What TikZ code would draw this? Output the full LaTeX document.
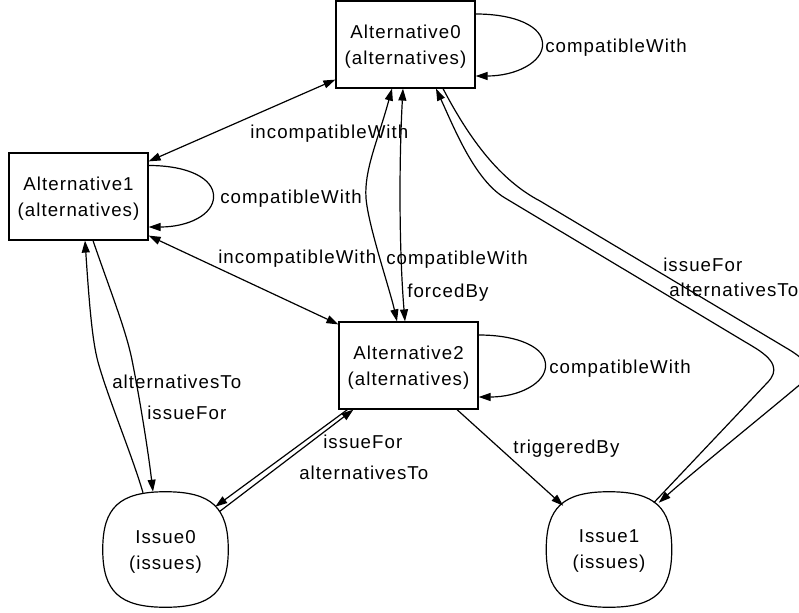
\documentclass[tikz,border=0pt]{standalone}
\usepackage{fontspec}
\setmainfont{Liberation Sans}[LetterSpace=5.7]
\usetikzlibrary{arrows.meta,calc}
\begin{document}
\begin{tikzpicture}[x=0.75pt,y=-0.75pt,
  >={Triangle[length=9pt,width=6pt]},
  every node/.style={font=\fontsize{14}{19.5}\selectfont},
  altbox/.style={draw, line width=0.9pt, minimum width=104.25pt, minimum height=65.25pt, inner sep=0pt, align=center, text depth=0pt},
  issuebox/.style={minimum width=93.75pt, minimum height=86.25pt, inner sep=0pt, align=center, text depth=0pt},
  issueline/.style={line width=0.9pt},
  lbl/.style={anchor=base west, inner sep=0pt},
  conn/.style={line width=0.9pt}]
\useasboundingbox (0,0) rectangle (799,613);
\clip (0,0) rectangle (799,613);

\node[altbox] (a0) at (405.5,44.5) {Alternative0\\(alternatives)};
\node[altbox] (a1) at (78.5,196.5) {Alternative1\\(alternatives)};
\node[altbox] (a2) at (408.5,365.5) {Alternative2\\(alternatives)};
\node[issuebox] (i0) at (165.5,549.5) {Issue0\\(issues)};
\node[issuebox] (i1) at (609,549.5) {Issue1\\(issues)};

% rounded outlines of the issue nodes
\draw[issueline] (i0.north) .. controls +(46,0) and +(0,-42) .. (i0.east) .. controls +(0,42) and +(46,0) .. (i0.south) .. controls +(-46,0) and +(0,42) .. (i0.west) .. controls +(0,-42) and +(-46,0) .. (i0.north) -- cycle;
\draw[issueline] (i1.north) .. controls +(46,0) and +(0,-42) .. (i1.east) .. controls +(0,42) and +(46,0) .. (i1.south) .. controls +(-46,0) and +(0,42) .. (i1.west) .. controls +(0,-42) and +(-46,0) .. (i1.north) -- cycle;

% Alt0 <-> Alt1, Alt1 <-> Alt2
\draw[conn,<->] ($(a0.south west)+(0,-9)$) -- ($(a1.north east)+(0,9)$);
\draw[conn,<->] ($(a1.south east)+(0,-5)$) -- ($(a2.north west)+(0,3)$);

% self loops
\draw[conn,->] ($(a0.east)+(0,-30.5)$) .. controls +(40,0) and +(0,-18) .. ($(a0.east)+(67,0)$) .. controls +(0,18) and +(40,0) .. ($(a0.east)+(0,31.5)$);
\draw[conn,->] ($(a1.east)+(0,-31)$) .. controls +(40,0) and +(0,-18) .. ($(a1.east)+(65,0)$) .. controls +(0,18) and +(40,0) .. ($(a1.east)+(0,30.5)$);
\draw[conn,->] ($(a2.east)+(0,-30.5)$) .. controls +(40,0) and +(0,-18) .. ($(a2.east)+(67,0)$) .. controls +(0,18) and +(40,0) .. ($(a2.east)+(0,31.5)$);

% Alt0 <-> Alt2
\draw[conn,<->] ($(a0.south)+(-13.5,0)$) .. controls (378,140) and (364,170) .. (366,198) .. controls (368,225) and (390,290) .. ($(a2.north)+(-11.5,0)$);
\draw[conn,<->] ($(a0.south)+(-2.5,0)$) .. controls (399,160) and (399,250) .. ($(a2.north)+(-3.5,0)$);

% Alt0 <-> Issue1
\draw[conn,<-] ($(a0.south)+(30.5,0)$) .. controls (455,130) and (475,180) .. (505,198) -- (752,346) .. controls (776,360) and (779,371) .. (767,383) -- ($(i1.north east)+(-18,11)$);
\draw[conn,->] ($(a0.south)+(37.5,0)$) .. controls (470,140) and (500,180) .. (540,201) -- (788,349) .. controls (815,365) and (812,375) .. (797,387) .. controls (760,418) and (692,473) .. ($(i1.north east)+(-13,11)$);

% Alt1 <-> Issue0
\draw[conn,<-] ($(a1.south)+(6.5,0)$) .. controls (89,300) and (92,340) .. (98,362) .. controls (108,398) and (132,455) .. ($(i0.north)+(-22.5,1)$);
\draw[conn,->] ($(a1.south)+(14.5,0)$) .. controls (110,290) and (126,330) .. (132,360) .. controls (140,400) and (148,450) .. ($(i0.north)+(-12.5,0)$);

% Alt2 <-> Issue0
\draw[conn,->] ($(a2.south west)+(9,0)$) -- ($(i0.north east)+(-13,15)$);
\draw[conn,->] ($(i0.north east)+(-9,20)$) -- ($(a2.south west)+(15,0)$);

% Alt2 -> Issue1
\draw[conn,->] ($(a2.south)+(48.5,0)$) -- ($(i1.north west)+(17,14)$);

% labels
\node[lbl] (l0) at (545,53) {compatibleWith};
\node[lbl] (l1) at (220,204) {compatibleWith};
\node[lbl] (l2) at (549,373) {compatibleWith};
\node[lbl] (l3) at (250,139) {incompatibleWith};
\node[lbl] (l4) at (218,263) {incompatibleWith};
\node[lbl] (l5) at (386,264) {compatibleWith};
\node[lbl] (l6) at (407,297) {forcedBy};
\node[lbl] (l7) at (663,271) {issueFor};
\node[lbl] (l8) at (669,296) {alternativesTo};
\node[lbl] (l9) at (513,453) {triggeredBy};
\node[lbl] (l10) at (112,388) {alternativesTo};
\node[lbl] (l11) at (147,419) {issueFor};
\node[lbl] (l12) at (323,448) {issueFor};
\node[lbl] (l13) at (299,479) {alternativesTo};
\end{tikzpicture}
\end{document}
